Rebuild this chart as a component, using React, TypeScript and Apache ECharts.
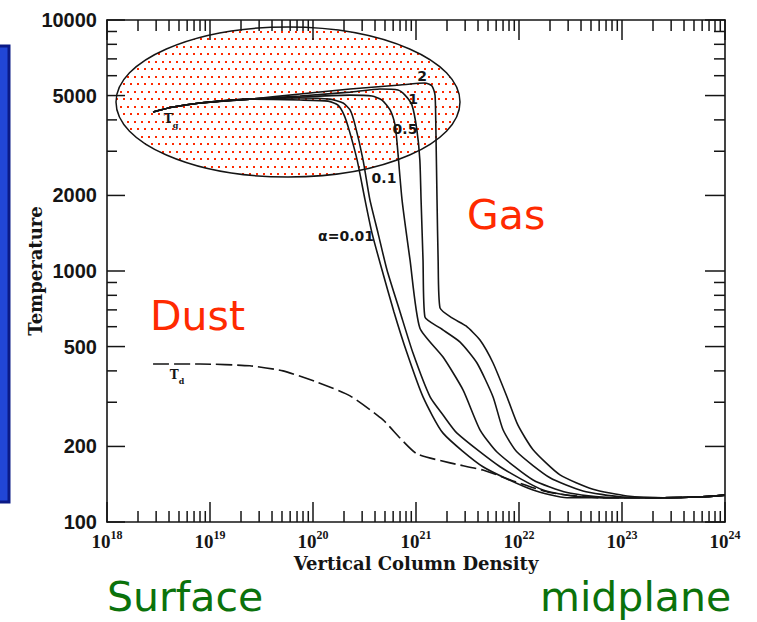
import React, { useEffect, useRef } from "react";
import * as echarts from "echarts";

// Axis ticks (column density decades, temperature ticks)
const decadeExponents = [18, 19, 20, 21, 22, 23, 24];
const minorMultipliers = [2, 3, 4, 5, 6, 7, 8, 9];
const temperatureLabels = [100, 200, 500, 1000, 2000, 5000, 10000];
const temperatureMinor = [300, 400, 600, 700, 800, 900, 3000, 4000, 6000, 7000, 8000, 9000];

// Gas temperature vs vertical column density for several alpha values
const gasAlpha001: [number, number][] = [
  [2.8e18, 4300], [4.38e18, 4500], [8.0e18, 4670], [2.44e19, 4840], [7.48e19, 4800],
  [1.4e20, 4750], [1.75e20, 4580], [2.0e20, 4190], [2.24e20, 3650], [2.68e20, 2770],
  [3.2e20, 1920], [3.74e20, 1416], [4.68e20, 1009], [6.11e20, 687], [8.18e20, 471],
  [1.17e21, 315], [1.83e21, 226], [4.47e21, 166], [1.37e22, 134], [2.93e22, 125],
  [2.5e23, 125], [6e23, 126], [1e24, 128],
];
const gasAlpha01: [number, number][] = [
  [2.8e18, 4300], [4.38e18, 4500], [8.0e18, 4670], [2.44e19, 4840], [7.48e19, 4890],
  [1.46e20, 4840], [1.96e20, 4670], [2.29e20, 4380], [2.56e20, 3820], [3.06e20, 2770],
  [3.57e20, 1920], [4.28e20, 1416], [5.23e20, 1009], [7.0e20, 687], [9.35e20, 471],
  [1.37e21, 315], [1.83e21, 267], [2.5e21, 226], [6.55e21, 166], [1.71e22, 134],
  [3.91e22, 126], [2.5e23, 125], [6e23, 126], [1e24, 128],
];
const gasAlpha05: [number, number][] = [
  [2.8e18, 4300], [4.38e18, 4500], [8.0e18, 4670], [2.44e19, 4840], [7.48e19, 4930],
  [2.29e20, 5020], [3.74e20, 4980], [4.68e20, 4800], [5.6e20, 4380], [6.26e20, 3820],
  [6.55e20, 3240], [7.32e20, 1920], [8.75e20, 1107], [1.09e21, 593], [1.83e21, 454],
  [2.86e21, 336], [4.18e21, 233], [6.11e21, 190], [1.37e22, 147], [2.93e22, 131],
  [7.63e22, 125], [2.5e23, 125], [6e23, 126], [1e24, 128],
];
const gasAlpha1: [number, number][] = [
  [2.8e18, 4300], [4.38e18, 4500], [8.0e18, 4670], [2.44e19, 4840], [7.48e19, 4980],
  [2.29e20, 5160], [4.47e20, 5310], [6.68e20, 5260], [7.82e20, 5020], [9.14e20, 4580],
  [1.02e21, 3650], [1.09e21, 2770], [1.12e21, 1920], [1.17e21, 1107], [1.22e21, 656],
  [1.71e21, 593], [2.68e21, 521], [3.91e21, 430], [5.6e21, 315], [7.0e21, 233],
  [9.57e21, 190], [2.0e22, 150], [4.18e22, 133], [9.57e22, 126], [2.5e23, 125],
  [6e23, 126], [1e24, 128],
];
const gasAlpha2: [number, number][] = [
  [2.8e18, 4300], [4.38e18, 4500], [8.0e18, 4670], [2.44e19, 4840], [7.48e19, 5070],
  [2.29e20, 5310], [7.0e20, 5510], [1.22e21, 5610], [1.43e21, 5460], [1.53e21, 5020],
  [1.56e21, 3650], [1.6e21, 1920], [1.64e21, 1107], [1.71e21, 713], [2.24e21, 650],
  [3.06e21, 604], [4.18e21, 531], [5.6e21, 430], [7.65e21, 315], [9.77e21, 243],
  [1.37e22, 194], [2.5e22, 154], [5.23e22, 135], [1.12e23, 127], [2.5e23, 125],
  [6e23, 126], [1e24, 128],
];
// Dust temperature
const dustTemp: [number, number][] = [
  [2.8e18, 426], [8.0e18, 426], [2.44e19, 419], [5.12e19, 400], [1.09e20, 361],
  [2.29e20, 318], [4.79e20, 255], [7.0e20, 216], [1.02e21, 187], [2.14e21, 172],
  [4.47e21, 161], [9.57e21, 144], [2.0e22, 131], [6.11e22, 125], [2.5e23, 125],
  [6e23, 126], [1e24, 128],
];

const gasSeries = [
  { name: "α=0.01", data: gasAlpha001 },
  { name: "0.1", data: gasAlpha01 },
  { name: "0.5", data: gasAlpha05 },
  { name: "1", data: gasAlpha1 },
  { name: "2", data: gasAlpha2 },
];

const INK = "#151515";
const RED = "#ff2a00";
const GREEN = "#0b720b";

function pow10(e: number) {
  return Number(`1e${e}`);
}

function makeDotPattern(): HTMLCanvasElement {
  const c = document.createElement("canvas");
  c.width = 14;
  c.height = 15;
  const ctx = c.getContext("2d")!;
  ctx.fillStyle = RED;
  const dots = [[1, 1], [8, 1], [4, 8], [11, 8]];
  dots.forEach(([x, y]) => ctx.fillRect(x, y, 2, 2));
  return c;
}

export default function App() {
  const ref = useRef<HTMLDivElement>(null);

  useEffect(() => {
    if (!ref.current) return;
    const chart = echarts.init(ref.current, undefined, { renderer: "svg" });

    const xMin = pow10(decadeExponents[0]);
    const xMax = pow10(decadeExponents[decadeExponents.length - 1]);
    const yMin = temperatureLabels[0];
    const yMax = temperatureLabels[temperatureLabels.length - 1];

    const xMajor = decadeExponents.map(pow10);
    const xMinor: number[] = [];
    decadeExponents.slice(0, -1).forEach((e) =>
      minorMultipliers.forEach((m) => xMinor.push(m * pow10(e)))
    );
    // keep the last decade label inside the axis extent despite pow rounding
    const xLabelValues = xMajor.map((v, i) => (i === xMajor.length - 1 ? v * (1 - 1e-9) : v));

    const logX = {
      type: "log",
      logBase: 10,
      min: xMin,
      max: xMax,
      splitLine: { show: false },
      minorTick: { show: false },
      axisTick: { show: false },
      silent: true,
    };
    const logY = {
      type: "log",
      logBase: 10,
      min: yMin,
      max: yMax,
      splitLine: { show: false },
      minorTick: { show: false },
      axisTick: { show: false },
      silent: true,
    };
    const line = { show: true, onZero: false, lineStyle: { color: INK, width: 1.6 } };
    const tickStyle = { stroke: INK, lineWidth: 1.5 };

    // inward tick marks on both opposite edges of the frame
    const xTicks = (vals: number[], len: number, name: string) => ({
      name,
      type: "custom",
      xAxisIndex: 0,
      yAxisIndex: 0,
      silent: true,
      clip: false,
      z: 4,
      data: vals.map((v) => [v, yMin]),
      renderItem: (_p: any, api: any) => {
        const v = api.value(0);
        const b = api.coord([v, yMin]);
        const t = api.coord([v, yMax]);
        return {
          type: "group",
          children: [
            { type: "line", shape: { x1: b[0], y1: b[1], x2: b[0], y2: b[1] - len }, style: tickStyle },
            { type: "line", shape: { x1: t[0], y1: t[1], x2: t[0], y2: t[1] + len }, style: tickStyle },
          ],
        };
      },
    });
    const yTicks = (vals: number[], lenL: number, lenR: number, name: string) => ({
      name,
      type: "custom",
      xAxisIndex: 0,
      yAxisIndex: 0,
      silent: true,
      clip: false,
      z: 4,
      data: vals.map((v) => [xMin, v]),
      renderItem: (_p: any, api: any) => {
        const v = api.value(1);
        const l = api.coord([xMin, v]);
        const r = api.coord([xMax, v]);
        return {
          type: "group",
          children: [
            { type: "line", shape: { x1: l[0], y1: l[1], x2: l[0] + lenL, y2: l[1] }, style: tickStyle },
            { type: "line", shape: { x1: r[0], y1: r[1], x2: r[0] - lenR, y2: r[1] }, style: tickStyle },
          ],
        };
      },
    });

    const option: any = {
      animation: false,
      backgroundColor: "#ffffff",
      grid: { left: 107, right: 32, top: 20, bottom: 100, containLabel: false },
      xAxis: [
        {
          ...logX,
          position: "bottom",
          axisLine: line,
          axisLabel: {
            show: true,
            customValues: xLabelValues,
            margin: 7,
            formatter: (v: number) => `{b|10}{s|${Math.round(Math.log10(v))}}`,
            rich: {
              b: {
                fontFamily: "Liberation Serif",
                fontWeight: "bold",
                fontSize: 19,
                lineHeight: 22,
                verticalAlign: "bottom",
                color: INK,
              },
              s: {
                fontFamily: "Liberation Serif",
                fontWeight: "bold",
                fontSize: 12,
                lineHeight: 10,
                verticalAlign: "top",
                color: INK,
              },
            },
          },
          name: "Vertical Column Density",
          nameLocation: "middle",
          nameGap: 32,
          nameMoveOverlap: false,
          nameTextStyle: {
            fontFamily: "DejaVu Serif",
            fontWeight: "bold",
            fontSize: 18,
            color: INK,
          },
        },
        { ...logX, position: "top", axisLine: line, axisLabel: { show: false } },
      ],
      yAxis: [
        {
          ...logY,
          position: "left",
          axisLine: line,
          axisLabel: {
            show: true,
            customValues: temperatureLabels,
            margin: 10,
            formatter: (v: number) => String(Math.round(v)),
            fontFamily: "Liberation Sans",
            fontWeight: "bold",
            fontSize: 20,
            color: INK,
          },
          name: "Temperature",
          nameLocation: "middle",
          nameGap: 63,
          nameMoveOverlap: false,
          nameTextStyle: {
            fontFamily: "DejaVu Serif",
            fontWeight: "bold",
            fontSize: 18,
            color: INK,
          },
        },
        { ...logY, position: "right", axisLine: line, axisLabel: { show: false } },
      ],
      series: [
        ...gasSeries.map((s) => ({
          name: s.name,
          type: "line",
          xAxisIndex: 0,
          yAxisIndex: 0,
          data: s.data,
          showSymbol: false,
          smooth: 0.2,
          silent: true,
          z: 3,
          lineStyle: { color: INK, width: 1.6 },
        })),
        {
          name: "Td",
          type: "line",
          xAxisIndex: 0,
          yAxisIndex: 0,
          data: dustTemp,
          showSymbol: false,
          smooth: 0.2,
          silent: true,
          z: 3,
          lineStyle: { color: INK, width: 1.6, type: [16, 5] },
        },
        xTicks(xMajor, 20, "xMajorTicks"),
        xTicks(xMinor, 11, "xMinorTicks"),
        yTicks(temperatureLabels, 18, 20, "yMajorTicks"),
        yTicks(temperatureMinor, 10, 11, "yMinorTicks"),
      ],
      graphic: [
        // side panel edge
        {
          type: "rect",
          silent: true,
          z: 1,
          shape: { x: -6, y: 46, width: 15, height: 456 },
          style: { fill: "#2146d6", stroke: "#0b1a86", lineWidth: 3 },
        },
        // dotted ellipse marking the hot gas region
        {
          type: "ellipse",
          silent: true,
          z: 1,
          shape: { cx: 288, cy: 102, rx: 172, ry: 75 },
          style: { fill: { image: makeDotPattern(), repeat: "repeat" }, stroke: INK, lineWidth: 1.5 },
        },
        // curve labels
        ...[
          { text: "2", x: 422, y: 76 },
          { text: "1", x: 413, y: 99 },
          { text: "0.5", x: 405, y: 129 },
          { text: "0.1", x: 384, y: 178 },
          { text: "α=0.01", x: 346, y: 236 },
        ].map((l) => ({
          type: "text",
          silent: true,
          z: 10,
          style: {
            text: l.text,
            x: l.x,
            y: l.y,
            align: "center",
            verticalAlign: "middle",
            font: 'bold 14px "DejaVu Sans"',
            fill: INK,
          },
        })),
        {
          type: "text",
          silent: true,
          z: 10,
          style: {
            text: "{t|T}{g|g}",
            x: 171,
            y: 121,
            align: "center",
            verticalAlign: "middle",
            rich: {
              t: { font: 'bold 12px "DejaVu Serif"', fill: INK, lineHeight: 16, verticalAlign: "top" },
              g: { font: 'bold 8px "DejaVu Serif"', fill: INK, lineHeight: 10, verticalAlign: "bottom" },
            },
          },
        },
        {
          type: "text",
          silent: true,
          z: 10,
          style: {
            text: "{t|T}{g|d}",
            x: 177,
            y: 377,
            align: "center",
            verticalAlign: "middle",
            rich: {
              t: { font: 'bold 12px "DejaVu Serif"', fill: INK, lineHeight: 16, verticalAlign: "top" },
              g: { font: 'bold 8px "DejaVu Serif"', fill: INK, lineHeight: 10, verticalAlign: "bottom" },
            },
          },
        },
        // region annotations
        ...[
          { text: "Gas", x: 467, y: 215, fill: RED },
          { text: "Dust", x: 150, y: 316, fill: RED },
          { text: "Surface", x: 107, y: 597, fill: GREEN },
          { text: "midplane", x: 540, y: 597, fill: GREEN },
        ].map((l) => ({
          type: "text",
          silent: true,
          z: 10,
          style: {
            text: l.text,
            x: l.x,
            y: l.y,
            align: "left",
            verticalAlign: "middle",
            font: '41px "DejaVu Sans"',
            fill: l.fill,
          },
        })),
      ],
    };

    chart.setOption(option);
    return () => chart.dispose();
  }, []);

  return (
    <div
      ref={ref}
      style={{ position: "fixed", left: 0, top: 0, width: 757, height: 622, background: "#fff" }}
    />
  );
}
